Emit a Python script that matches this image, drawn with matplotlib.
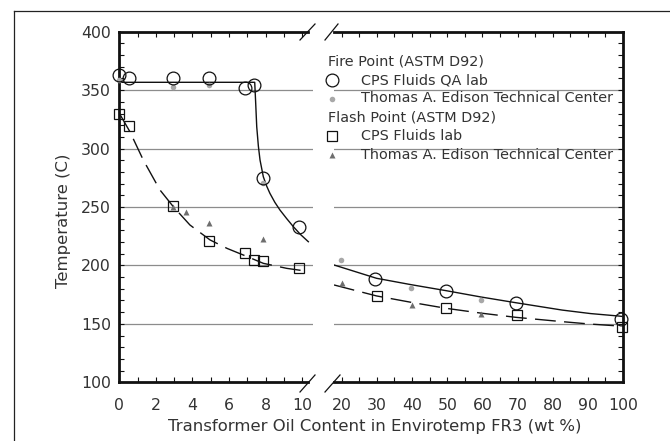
import matplotlib
matplotlib.use('Agg')
import matplotlib.pyplot as plt
from matplotlib.lines import Line2D
from matplotlib.ticker import MultipleLocator

plt.rcParams['font.family'] = ['DejaVu Sans']

# ---------------- data ----------------
# Fire point, CPS Fluids QA lab (circles)
fire_cps_x_low = [0, 0.55, 2.92, 4.92, 6.87, 7.36, 7.87, 9.84]
fire_cps_y_low = [363, 360, 360.5, 360.5, 352, 354.5, 274.5, 233]
fire_cps_x_high = [29.6, 49.7, 69.5, 99.3]
fire_cps_y_high = [188, 178, 168, 154]
# Fire point, Thomas A. Edison Technical Center (grey dots)
fire_ted_x_low = [0, 2.92, 4.92, 7.87]
fire_ted_y_low = [359, 353, 354.5, 270.5]
fire_ted_x_high = [19.8, 39.6, 59.6]
fire_ted_y_high = [204.5, 180.5, 170.5]
# Flash point, CPS Fluids lab (squares)
flash_cps_x_low = [0, 0.55, 2.92, 4.92, 6.87, 7.36, 7.87, 9.84]
flash_cps_y_low = [330, 319.5, 250.5, 220.5, 210.5, 204.5, 204, 197.5]
flash_cps_x_high = [29.9, 49.7, 69.8, 99.6]
flash_cps_y_high = [174, 163.5, 157.5, 147]
# Flash point, Thomas A. Edison Technical Center (grey triangles)
flash_ted_x_low = [2.92, 3.64, 4.92, 7.87]
flash_ted_y_low = [250, 246, 236.5, 223]
flash_ted_x_high = [20, 39.9, 59.6]
flash_ted_y_high = [185, 166, 158.5]

# trend curves
fire_fit_x_low = [0, 7.40, 7.45, 7.51, 7.60, 7.69, 7.87, 8.05, 8.23, 8.50, 8.78, 9.15, 9.51, 9.90, 10.33]
fire_fit_y_low = [356.7, 356.7, 340, 318.7, 302, 290.2, 275.9, 268, 261.7, 254, 247.4, 240, 233.2, 226.5, 220.3]
flash_fit_x_low = [0, 0.58, 1.31, 2.22, 2.95, 3.86, 4.96, 5.9, 6.78, 7.87, 9.15, 10.05]
flash_fit_y_low = [330.2, 314.4, 290.2, 264.6, 250.3, 234.6, 221.8, 214.5, 208.9, 201.8, 197.5, 195.5]
fire_fit_x_high = [17.8, 29.9, 39.8, 49.7, 59.6, 69.5, 82.7, 90.8, 98.8, 99.66]
fire_fit_y_high = [200.4, 189, 183.5, 178.4, 173, 168.1, 161.8, 158.8, 156.7, 156.4]
flash_fit_x_high = [17.8, 29.9, 39.8, 49.7, 59.6, 69.5, 82.7, 90.8, 98.8]
flash_fit_y_high = [183.3, 173.9, 168.4, 163.3, 159.2, 155.6, 151.9, 149.8, 148.2]

grid_values = [150, 200, 250, 300, 350]
x_ticks_low = [0, 2, 4, 6, 8, 10]
x_ticks_high = [20, 30, 40, 50, 60, 70, 80, 90, 100]
y_ticks = [100, 150, 200, 250, 300, 350, 400]

legend_fire_header = "Fire Point (ASTM D92)"
legend_fire_cps = "CPS Fluids QA lab"
legend_fire_ted = "Thomas A. Edison Technical Center"
legend_flash_header = "Flash Point (ASTM D92)"
legend_flash_cps = "CPS Fluids lab"
legend_flash_ted = "Thomas A. Edison Technical Center"

# ---------------- styling ----------------
W, H = 670, 441
TXT = '#333333'
GRID = '#8c8c8c'
DOT = '#a8a8a8'
TRI = '#6e6e6e'
FS_TICK = 11.3
FS_LAB = 11.85
FS_LEG = 10.4

fig = plt.figure(figsize=(W / 100, H / 100), dpi=100)


def fx(px):
    return px / W


def fy(py):
    return 1 - py / H


ax_bottom = fy(382.3)
ax_h = 350.6 / H
axL = fig.add_axes([fx(119.3), ax_bottom, (313 - 119.3) / W, ax_h])
axR = fig.add_axes([fx(334), ax_bottom, (623 - 334) / W, ax_h])

axL.set_xlim(0, 10.585)
axR.set_xlim(17.8, 99.66)
for ax in (axL, axR):
    ax.set_ylim(100, 400)
    ax.set_facecolor('none')
    for v in grid_values:
        ax.axhline(v, color=GRID, lw=0.9, zorder=0.5)
    for s in ax.spines.values():
        s.set_linewidth(2.0)
        s.set_color('#111111')
    ax.tick_params(which='both', direction='in', length=3.5, width=0.8,
                   color='#111111', labelsize=FS_TICK, labelcolor=TXT)

# left panel
axL.spines['right'].set_visible(False)
axL.spines['top'].set_bounds(0, 10.3)
axL.spines['bottom'].set_bounds(0, 10.3)
axL.set_xticks(x_ticks_low)
axL.xaxis.set_minor_locator(MultipleLocator(1))
axL.set_yticks(y_ticks)
axL.yaxis.set_minor_locator(MultipleLocator(10))
axL.tick_params(axis='x', which='both', top=True, bottom=True, pad=11)
axL.tick_params(axis='y', which='both', left=True, right=False, pad=6)

# right panel
axR.spines['left'].set_visible(False)
axR.set_xticks(x_ticks_high)
axR.xaxis.set_minor_locator(MultipleLocator(5))
axR.set_yticks(y_ticks)
axR.yaxis.set_minor_locator(MultipleLocator(10))
axR.tick_params(axis='x', which='both', top=True, bottom=True, pad=11)
axR.tick_params(axis='y', which='both', left=False, right=True,
                labelleft=False, labelright=False)

dash = (15, 6)
# curves
axL.plot(fire_fit_x_low, fire_fit_y_low, color='#111111', lw=1.0, zorder=2, clip_on=False)
axL.plot(flash_fit_x_low, flash_fit_y_low, color='#111111', lw=1.0, dashes=dash, zorder=2)
axR.plot(fire_fit_x_high, fire_fit_y_high, color='#111111', lw=1.0, zorder=2)
axR.plot(flash_fit_x_high, flash_fit_y_high, color='#111111', lw=1.0, dashes=dash, zorder=2)

# markers
for ax, fx_, fy_, tx, ty in [
    (axL, fire_ted_x_low, fire_ted_y_low, flash_ted_x_low, flash_ted_y_low),
    (axR, fire_ted_x_high, fire_ted_y_high, flash_ted_x_high, flash_ted_y_high)]:
    ax.plot(fx_, fy_, 'o', color=DOT, ms=4, mec='none', zorder=3, clip_on=False)
    ax.plot(tx, ty, '^', color=TRI, ms=5, mec='none', zorder=3, clip_on=False)
for ax, cx, cy, sx, sy in [
    (axL, fire_cps_x_low, fire_cps_y_low, flash_cps_x_low, flash_cps_y_low),
    (axR, fire_cps_x_high, fire_cps_y_high, flash_cps_x_high, flash_cps_y_high)]:
    ax.plot(cx, cy, 'o', ms=9.2, mfc='none', mec='#111111', mew=0.9, zorder=4, clip_on=False)
    ax.plot(sx, sy, 's', ms=7.2, mfc='none', mec='#111111', mew=0.9, zorder=4, clip_on=False)

# break marks
for (x0, y0, x1, y1) in [(300, 392, 315, 375), (325, 392, 340, 375),
                         (300, 40, 315, 24), (325, 40, 338, 24)]:
    fig.add_artist(Line2D([fx(x0), fx(x1)], [fy(y0), fy(y1)], color='#111111', lw=0.9))

# outer frame (top and left only)
fig.add_artist(Line2D([fx(14), fx(670)], [fy(11), fy(11)], color='#222222', lw=0.9))
fig.add_artist(Line2D([fx(14), fx(14)], [fy(11), fy(441)], color='#222222', lw=0.9))

# axis labels
fig.text(fx(375), fy(427), "Transformer Oil Content in Envirotemp FR3 (wt %)",
         ha='center', va='center', fontsize=FS_LAB, color=TXT)
fig.text(fx(63.5), fy(221), "Temperature (C)", rotation=90,
         ha='center', va='center', fontsize=FS_LAB, color=TXT)

# legend (manual)
rows = [61.7, 80, 98.5, 117.3, 136, 155]
fig.text(fx(328), fy(rows[0]), legend_fire_header, ha='left', va='center', fontsize=FS_LEG, color=TXT)
fig.text(fx(328), fy(rows[3]), legend_flash_header, ha='left', va='center', fontsize=FS_LEG, color=TXT)
for r, lab in [(rows[1], legend_fire_cps), (rows[2], legend_fire_ted),
               (rows[4], legend_flash_cps), (rows[5], legend_flash_ted)]:
    fig.text(fx(361), fy(r), lab, ha='left', va='center', fontsize=FS_LEG, color=TXT)
fig.add_artist(Line2D([fx(332)], [fy(rows[1])], marker='o', ms=9.2, mfc='none', mec='#111111', mew=0.9))
fig.add_artist(Line2D([fx(332)], [fy(rows[2])], marker='o', ms=4, color=DOT, mec='none'))
fig.add_artist(Line2D([fx(332)], [fy(rows[4])], marker='s', ms=7.2, mfc='none', mec='#111111', mew=0.9))
fig.add_artist(Line2D([fx(332)], [fy(rows[5])], marker='^', ms=5, color=TRI, mec='none'))

fig.savefig('out.png', dpi=100)
